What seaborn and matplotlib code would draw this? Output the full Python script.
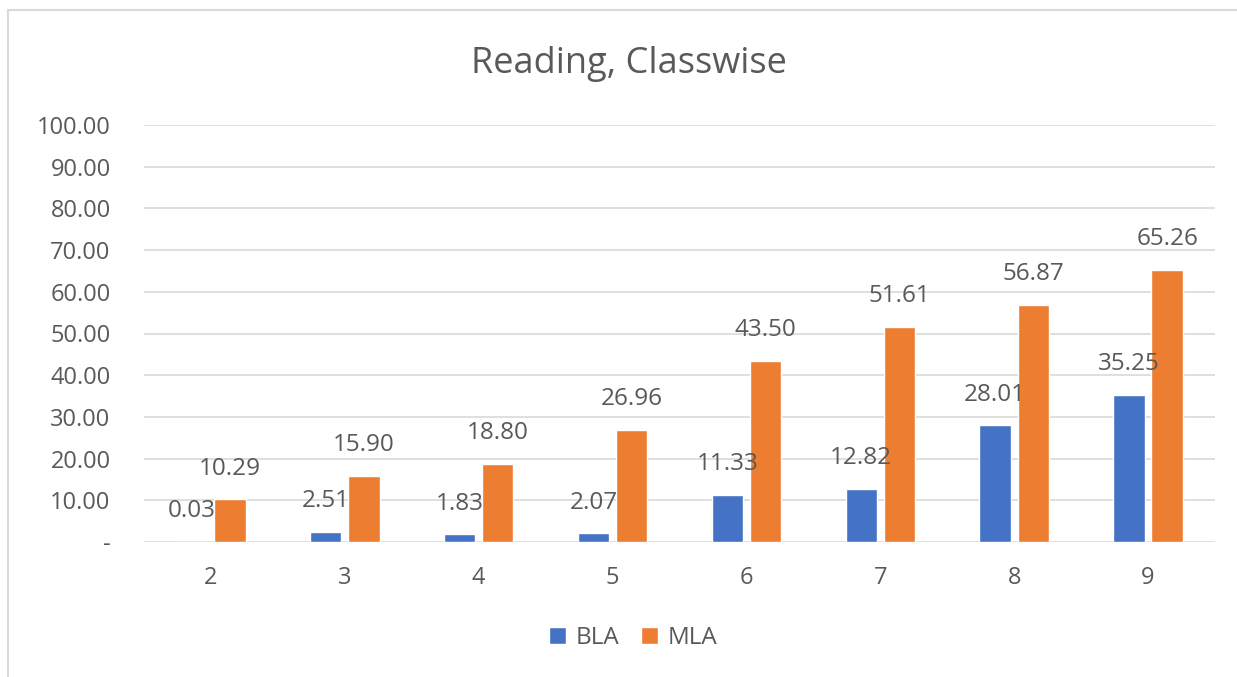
import pandas as pd
import matplotlib
matplotlib.use("Agg")
import matplotlib.pyplot as plt
import seaborn as sns
from matplotlib.patches import Rectangle

# data
classes = ["2", "3", "4", "5", "6", "7", "8", "9"]
bla = [0.03, 2.51, 1.83, 2.07, 11.33, 12.82, 28.01, 35.25]
mla = [10.29, 15.90, 18.80, 26.96, 43.50, 51.61, 56.87, 65.26]
series = ["BLA", "MLA"]
colors = ["#4472C4", "#ED7D31"]
yticks = [0, 10, 20, 30, 40, 50, 60, 70, 80, 90, 100]

df = pd.DataFrame({
    "Class": classes * 2,
    "Value": bla + mla,
    "Series": ["BLA"] * len(classes) + ["MLA"] * len(classes),
})

sns.set_theme(style="white")
plt.rcParams["font.family"] = ["Open Sans", "DejaVu Sans"]
text_color = "#595959"

fig = plt.figure(figsize=(12.37, 6.77), dpi=100)
# chart frame (Excel style border)
fig.patches.append(Rectangle((8 / 1237, -0.1), 1.2, 1 - 10 / 677 + 0.1,
                             transform=fig.transFigure, fill=False,
                             edgecolor="#d9d9d9", linewidth=1.5))

ax = fig.add_axes([144 / 1237, 1 - 542 / 677, (1215 - 144) / 1237, (542 - 125) / 677])
sns.barplot(data=df, x="Class", y="Value", hue="Series", order=classes,
            hue_order=series, palette=colors, width=0.57, gap=0.18,
            saturation=1, ax=ax, legend=True)

# data labels above each bar
for container in ax.containers:
    for bar in container:
        h = bar.get_height()
        ax.annotate(f"{h:.2f}", (bar.get_x() + bar.get_width() / 2, h),
                    xytext=(0, 22), textcoords="offset points",
                    ha="center", va="center", fontsize=17.5, color=text_color)

ax.set_ylim(0, 100)
ax.set_yticks(yticks)
ax.set_yticklabels(["-" if t == 0 else f"{t:.2f}" for t in yticks])
ax.grid(axis="y", color="#d9d9d9", linewidth=1.2)
ax.set_axisbelow(True)
for s in ax.spines.values():
    s.set_visible(False)
ax.tick_params(axis="both", length=0, labelsize=17, labelcolor=text_color)
ax.tick_params(axis="y", pad=24)
ax.tick_params(axis="x", pad=17)
ax.set_xlabel("")
ax.set_ylabel("")

fig.text(629 / 1237, 1 - 64 / 677, "Reading, Classwise", ha="center", va="center",
         fontsize=26, color=text_color)

handles, labels = ax.get_legend_handles_labels()
ax.legend_.remove()
fig.legend(handles, labels, loc="center", bbox_to_anchor=(633 / 1237, 1 - 638 / 677),
           ncol=2, frameon=False, fontsize=17.5, labelcolor=text_color,
           handlelength=0.7, handleheight=0.7, handletextpad=0.4, columnspacing=0.9)

fig.savefig("out.png", dpi=100)
